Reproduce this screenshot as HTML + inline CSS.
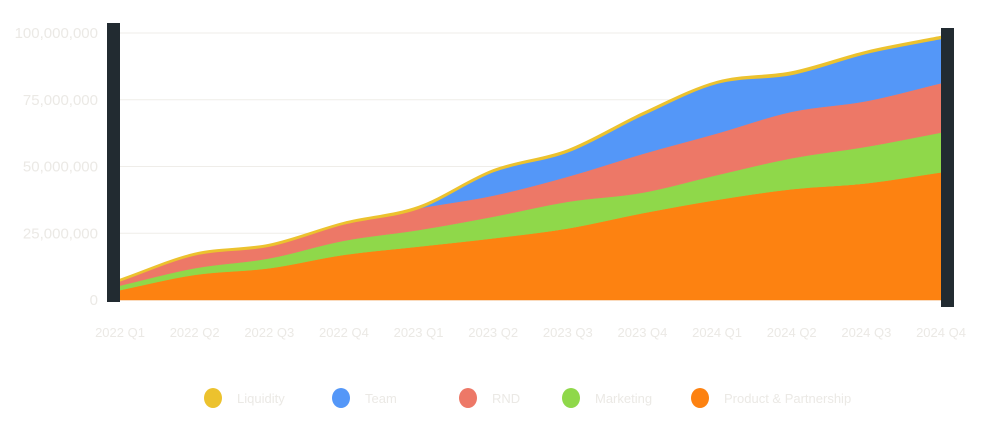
<!DOCTYPE html>
<html><head><meta charset="utf-8">
<style>
html,body{margin:0;padding:0;background:#fff;}
body{width:981px;height:428px;overflow:hidden;font-family:"Liberation Sans",sans-serif;}
</style></head>
<body>
<svg id="chart" width="981" height="428" xmlns="http://www.w3.org/2000/svg"></svg>
<script>
const categories = ["2022 Q1","2022 Q2","2022 Q3","2022 Q4","2023 Q1","2023 Q2","2023 Q3","2023 Q4","2024 Q1","2024 Q2","2024 Q3","2024 Q4"];
const productValues = [3.7,9.4,11.9,16.9,20.0,23.1,26.8,32.5,37.5,41.5,43.7,47.8];
const marketingValues = [1.7,2.5,3.7,5.3,6.2,8.1,10.0,7.7,9.3,11.6,13.7,14.9];
const rndValues = [1.8,5.0,4.6,6.3,8.1,7.9,9.4,14.5,15.6,17.4,17.1,18.5];
const teamValues = [0,0,0,0,0,9.0,9.3,14.6,18.8,14.0,17.9,16.8];
const liquidityValues = [0.5,0.5,0.6,0.5,0.7,0.6,0.7,0.7,0.6,0.9,0.7,0.7];
const yTicks = [0,25,50,75,100];
const yTickLabels = ["0","25,000,000","50,000,000","75,000,000","100,000,000"];

const NS="http://www.w3.org/2000/svg";
const svg=document.getElementById('chart');
const x0=120,x1=941,yBase=300,yTop=33;
const xScale=i=>x0+(x1-x0)*i/(categories.length-1);
const yScale=v=>yBase-(yBase-yTop)*v/100;
function mk(tag,attrs){const e=document.createElementNS(NS,tag);for(const k in attrs)e.setAttribute(k,attrs[k]);svg.appendChild(e);return e;}

// grid + y labels
yTicks.forEach((t,i)=>{
  const g=mk('line',{x1:x0,x2:x1,y1:yScale(t),y2:yScale(t),stroke:'#efede9','stroke-width':1});
  
  
  const tx=mk('text',{x:98,y:yScale(t)+5,'text-anchor':'end','font-size':15,fill:'#ebe9e5'});
  tx.textContent=yTickLabels[i];
  
  
});
categories.forEach((c,i)=>{
  const tx=mk('text',{x:xScale(i),y:337,'text-anchor':'middle','font-size':13,fill:'#ebe9e5'});
  tx.textContent=c;
  
  
});

// monotone cubic path
function monoPath(pts){
  const n=pts.length;const d=[],m=[];
  for(let i=0;i<n-1;i++)d.push((pts[i+1][1]-pts[i][1])/(pts[i+1][0]-pts[i][0]));
  m[0]=d[0];m[n-1]=d[n-2];
  for(let i=1;i<n-1;i++){m[i]=(d[i-1]*d[i]<=0)?0:(d[i-1]+d[i])/2;
    const a=m[i]/d[i-1],b=m[i]/d[i];if(isFinite(a)&&isFinite(b)){const s=a*a+b*b;if(s>9){const t=3/Math.sqrt(s);m[i]=t*(d[i-1]+d[i])/2;}}}
  let p='';
  for(let i=0;i<n-1;i++){const h=(pts[i+1][0]-pts[i][0])/3;
    p+=` C${pts[i][0]+h},${pts[i][1]+m[i]*h} ${pts[i+1][0]-h},${pts[i+1][1]-m[i+1]*h} ${pts[i+1][0]},${pts[i+1][1]}`;}
  return p;
}
const series=[
  {name:'product-partnership-area',vals:productValues,color:'#fd8211'},
  {name:'marketing-area',vals:marketingValues,color:'#8fd84a'},
  {name:'rnd-area',vals:rndValues,color:'#ed7867'},
  {name:'team-area',vals:teamValues,color:'#5497f8'},
  {name:'liquidity-area',vals:liquidityValues,color:'#ecc22e'}
];
let base=categories.map(()=>0);
series.forEach(s=>{
  const top=base.map((b,i)=>b+s.vals[i]);
  const tp=top.map((v,i)=>[xScale(i),yScale(v)]);
  const bp=base.map((v,i)=>[xScale(i),yScale(v)]).reverse();
  let d=`M${tp[0][0]},${tp[0][1]}`+monoPath(tp)+` L${bp[0][0]},${bp[0][1]}`+monoPath(bp)+'Z';
  const p=mk('path',{d:d,fill:s.color,stroke:s.color,'stroke-width':s.name==='liquidity-area'?1.5:0.5});
  
  
  base=top;
});

// brush handles
const l=mk('rect',{x:107,y:23,width:13,height:279,fill:'#222b31'});


const r=mk('rect',{x:941,y:28,width:13,height:279,fill:'#222b31'});



// legend
const legend=[["Liquidity",'#ecc22e',213],["Team",'#5497f8',341],["RND",'#ed7867',468],["Marketing",'#8fd84a',571],["Product & Partnership",'#fd8211',700]];
legend.forEach(([t,c,x])=>{
  const ci=mk('ellipse',{cx:x,cy:398,rx:9,ry:10,fill:c});
  
  
  const tx=mk('text',{x:x+24,y:403,'font-size':13,fill:'#ebe9e5'});
  tx.textContent=t;
  
  
});
</script>
</body></html>
